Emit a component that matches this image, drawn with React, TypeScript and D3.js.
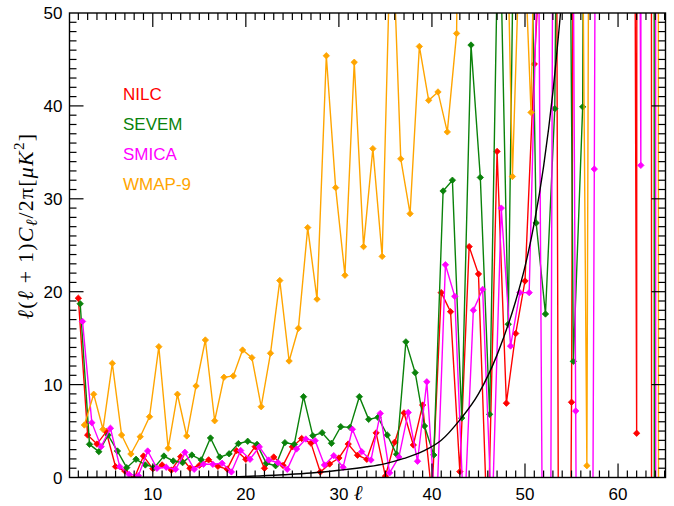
import React from "react";
import * as d3 from "d3";

const ELL = [2, 3, 4, 5, 6, 7, 8, 9, 10, 11, 12, 13, 14, 15, 16, 17, 18, 19, 20, 21, 22, 23, 24, 25, 26, 27, 28, 29, 30, 31, 32, 33, 34, 35, 36, 37, 38, 39, 40, 41, 42, 43, 44, 45, 46, 47, 48, 49, 50, 51, 52, 53, 54, 55, 56, 57, 58, 59, 60, 61, 62, 63, 64, 65];

const NILC = [19.3, 4.57, 3.6, 4.93, 1.17, 0.7, -0.1, 2.31, 0.95, 1.35, 0.8, 2.24, 0.99, 1.3, 1.9, 1.2, 0.9, 2.89, 1.96, 3.32, 0.99, 2.2, 1.3, 3.3, 4.2, 3.7, 0.6, 1.45, 2.1, 3.6, 2.4, 1.96, 4.8, 0.15, 3.8, 6.95, 3.5, 7.8, -2, 19.9, 17.85, 0.63, 24.85, 21.9, -7, 35.1, 8.0, 15.5, 21.15, 44.5, 63, 200, -150, 8.1, 300, 300, 300, 300, 300, 300, 4.76, 3000, -2000, -2000];

const SEVEM = [18.7, 3.57, 2.78, 4.57, 2.85, 1.06, 1.96, 1.35, 1.1, 2.31, 1.78, 1.6, 2.42, 1.9, 4.25, 2.2, 2.55, 3.65, 3.9, 3.57, 1.53, 1.27, 3.75, 3.57, 8.7, 4.5, 4.82, 3.68, 5.47, 5.4, 8.7, 6.26, 6.48, 4.57, 2.5, 14.6, 11.28, 5.54, 2.42, 30.84, 32.0, 6.4, 46.55, 32.3, 6.8, 65, 16.5, 91, 90, 27.4, 17.6, 39.7, 150, 12.5, 39.9, 300, 300, 300, 300, 300, 300, 3000, -1300, -1300];

const SMICA = [16.8, 5.9, 3.32, 5.3, 1.17, 0.34, 0.2, 2.85, 0.99, 1.1, 0.88, 2.71, 0.88, 1.42, 1.42, 1.53, 0.6, 2.9, 1.96, 3.3, 1.88, 1.6, 0.88, 3.07, 4.14, 3.96, 1.35, 2.35, 1.1, 5.19, 2.78, 1.88, 6.9, 0.5, 2.2, 7.0, 1.75, 10.3, -5, 22.9, 19.5, -5, 18.0, 20.25, -5, 29.0, 14.15, 19.9, 19.9, 60, -100, 200, 200, 7.16, -200, 33.2, 300, 300, 300, 300, 33.6, 3000, -2000, -2000];

const WMAP9 = [5.65, 8.96, 5.19, 12.29, 4.57, 2.53, 4.39, 6.54, 14.08, 3.14, 8.96, 4.47, 9.85, 14.8, 6.11, 10.79, 10.93, 13.72, 12.9, 7.62, 13.37, 21.2, 12.54, 16.06, 26.9, 19.2, 45.4, 31.2, 21.77, 44.7, 24.85, 35.4, 23.8, 62, 34.3, 28.4, 46.4, 40.6, 41.5, 37.2, 47.8, 150, 150, 150, 150, 81, 32.4, 65, 39.3, 97, 200, 200, 200, 130, 1.27, 300, 300, 300, 300, 300, 300, 3000, -1300, -1300];

const CURVE_ELL = [2, 10, 15, 20, 24, 27, 30, 33, 35, 37, 39, 41, 43, 45, 47, 49, 50, 51, 52, 53, 54];
const CURVE_VAL = [0, 0.02, 0.05, 0.12, 0.3, 0.48, 0.78, 1.15, 1.5, 2.05, 2.8, 4.0, 6.2, 9.0, 13.2, 19.0, 22.7, 27.4, 33.5, 41.5, 52];

const X_MAJOR = [10, 20, 30, 40, 50, 60];
const Y_MAJOR = [0, 10, 20, 30, 40, 50];
const LEGEND_NAMES = ["NILC", "SEVEM", "SMICA", "WMAP-9"];

const W = 674;
const H = 506;
const L = 69.5, R = 665.5, T = 13, B = 477.5;

const SERIES = [
  { name: "NILC", values: NILC, color: "#ff0000", shift: 0 },
  { name: "SEVEM", values: SEVEM, color: "#0a820a", shift: 0.2 },
  { name: "SMICA", values: SMICA, color: "#ff00ff", shift: 0.45 },
  { name: "WMAP-9", values: WMAP9, color: "#ffa500", shift: 0.65 },
];

export default function App() {
  const x = d3.scaleLinear().domain([1.05, 65.1]).range([L, R]);
  const y = d3.scaleLinear().domain([0, 50]).range([B, T]);

  const xMinor = d3.range(2, 66);
  const yMinor = d3.range(1, 50);

  const line = d3
    .line<[number, number]>()
    .x((d) => x(d[0]))
    .y((d) => y(d[1]));

  const curve = d3
    .line<[number, number]>()
    .x((d) => x(d[0]))
    .y((d) => y(d[1]))
    .curve(d3.curveMonotoneX);

  const curvePts: [number, number][] = CURVE_ELL.map((l, i) => [l, CURVE_VAL[i]]);

  const diamond = (cx: number, cy: number, r = 3.2) =>
    `M${cx},${cy - r}L${cx + r},${cy}L${cx},${cy + r}L${cx - r},${cy}Z`;

  const major = 14;
  const minor = 7;

  return (
    <svg
      width={W}
      height={H}
      style={{ position: "absolute", left: 0, top: 0, background: "#fff" }}
      fontFamily="'Liberation Sans', Arial, Helvetica, sans-serif"
    >
      <defs>
        <clipPath id="plotclip">
          <rect x={L} y={T} width={R - L} height={B - T} />
        </clipPath>
      </defs>
      <rect x={0} y={0} width={W} height={H} fill="#fff" />

      <g clipPath="url(#plotclip)">
        {SERIES.map((s) => {
          const pts: [number, number][] = ELL.map((l, i) => [l + s.shift, s.values[i]]);
          return (
            <g key={s.name}>
              <path d={line(pts) || ""} fill="none" stroke={s.color} strokeWidth={1.4} />
              {pts.map((p, i) => (
                <path
                  key={i}
                  d={diamond(x(p[0]), y(p[1]))}
                  fill={s.color}
                  stroke={s.color}
                  strokeWidth={0.8}
                  strokeLinejoin="round"
                />
              ))}
            </g>
          );
        })}
        <path d={curve(curvePts) || ""} fill="none" stroke="#000" strokeWidth={1.4} />
      </g>

      {/* ticks */}
      <g stroke="#000" strokeWidth={1.2}>
        {xMinor.map((v) => {
          const len = v % 10 === 0 ? major : minor;
          return (
            <g key={"xt" + v}>
              <line x1={x(v)} x2={x(v)} y1={B} y2={B - len} />
              <line x1={x(v)} x2={x(v)} y1={T} y2={T + len} />
            </g>
          );
        })}
        {yMinor.map((v) => {
          const len = v % 10 === 0 ? major : minor;
          return (
            <g key={"yt" + v}>
              <line x1={L} x2={L + len} y1={y(v)} y2={y(v)} />
              <line x1={R} x2={R - len} y1={y(v)} y2={y(v)} />
            </g>
          );
        })}
      </g>
      <rect x={L} y={T} width={R - L} height={B - T} fill="none" stroke="#000" strokeWidth={1.4} />

      {/* tick labels */}
      <g fontSize={17} fill="#000">
        {X_MAJOR.map((v) => (
          <text key={"xl" + v} x={x(v)} y={B + 22} textAnchor="middle">
            {v}
          </text>
        ))}
        {Y_MAJOR.map((v) => (
          <text key={"yl" + v} x={L - 7} y={y(v) + 6} textAnchor="end">
            {v}
          </text>
        ))}
      </g>

      {/* axis labels */}
      <text
        x={358}
        y={500}
        fontFamily="'Liberation Serif', 'DejaVu Serif', serif"
        fontStyle="italic"
        fontSize={21}
        textAnchor="middle"
      >
        ℓ
      </text>
      <text
        transform={`translate(33, 226) rotate(-90)`}
        fontFamily="'Liberation Serif', 'DejaVu Serif', serif"
        fontSize={22}
        letterSpacing={1.2}
        textAnchor="middle"
      >
        <tspan fontStyle="italic">ℓ</tspan>
        <tspan>(</tspan>
        <tspan fontStyle="italic">ℓ</tspan>
        <tspan>{" + 1)"}</tspan>
        <tspan fontStyle="italic">C</tspan>
        <tspan fontStyle="italic" fontSize={16} dy={4}>ℓ</tspan>
        <tspan dy={-4}>/2π[</tspan>
        <tspan fontStyle="italic">μK</tspan>
        <tspan fontSize={15} dy={-9}>2</tspan>
        <tspan dy={9}>]</tspan>
      </text>

      {/* legend */}
      <g fontSize={17}>
        {LEGEND_NAMES.map((n, i) => (
          <text key={n} x={123} y={99.5 + i * 30.3} fill={SERIES[i].color}>
            {n}
          </text>
        ))}
      </g>
    </svg>
  );
}
